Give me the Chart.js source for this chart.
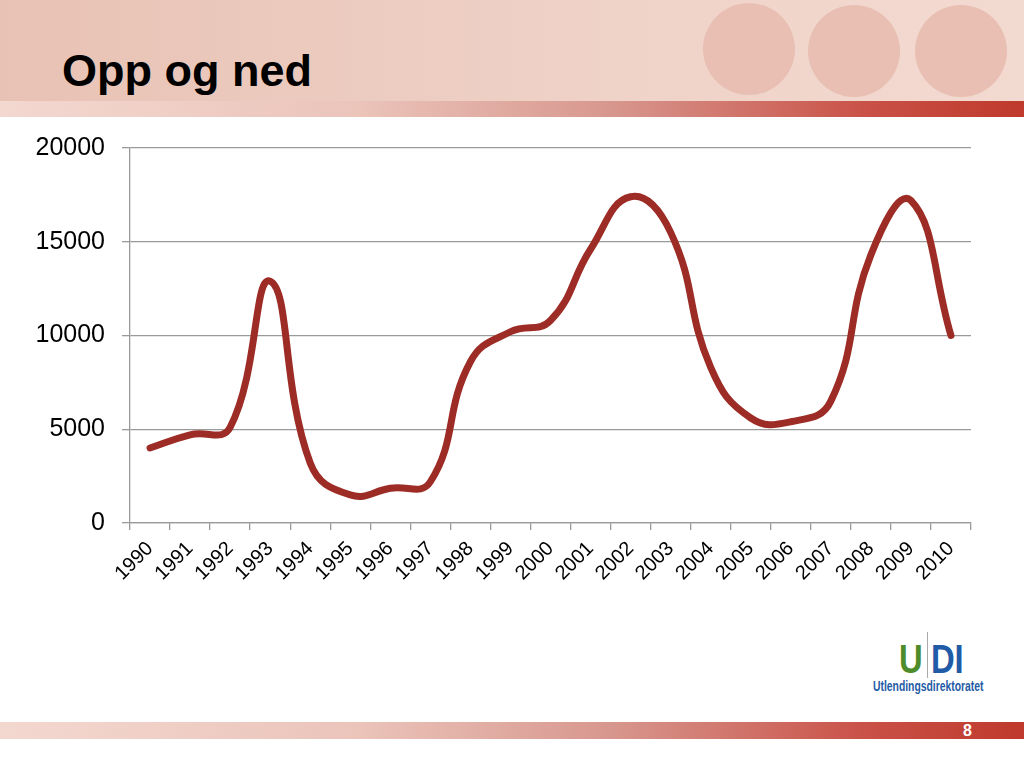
<!DOCTYPE html>
<html lang="no">
<head>
  <meta charset="UTF-8" />
  <title>Opp og ned</title>
  <script src="https://cdn.jsdelivr.net/npm/chart.js"></script>
  <style>
    body { margin: 0; width: 1024px; height: 768px; position: relative; overflow: hidden; background: #fff; font-family: 'Liberation Sans', Arial, sans-serif; }
    .head { position: absolute; left: 0; top: 0; width: 1024px; height: 101px; background: linear-gradient(to right, #e8c2b4, #efd2c8 60%, #f3dad1); }
    .dot { position: absolute; width: 92px; height: 92px; border-radius: 50%; background: #e8bfb2; }
    .bar { position: absolute; left: 0; width: 1024px; background: linear-gradient(to right, #f3d8d0 0%, #ebc4ba 35%, #d7968d 60%, #c95046 85%, #bf392c 100%); }
    h1 { position: absolute; left: 62px; top: 48px; margin: 0; font-size: 45px; line-height: 46px; font-weight: bold; color: #000; }
    .chart { position: absolute; left: 0; top: 116px; }
    .udi { position: absolute; left: 899px; top: 636px; font-weight: bold; font-size: 40px; line-height: 46px; transform: scale(0.82, 1); transform-origin: 0 0; white-space: nowrap; }
    .udi .u { color: #4e8c2b; }
    .udi .di { color: #1f5ba6; margin-left: 10px; }
    .sep { position: absolute; left: 927px; top: 632px; width: 1px; height: 46px; background: #aaa; }
    .name { position: absolute; left: 873px; top: 678px; font-size: 14px; line-height: 16px; font-weight: bold; color: #1f5ba6; white-space: nowrap; transform: scale(0.74, 1); transform-origin: 0 0; }
    .num { position: absolute; left: 963px; top: 722px; font-size: 16px; font-weight: bold; color: #fff; line-height: 17px; }
  </style>
</head>
<body>
  <div class="head"></div>
  <div class="dot" style="left:703px;top:3px"></div>
  <div class="dot" style="left:808px;top:5px"></div>
  <div class="dot" style="left:915px;top:5px"></div>
  <div class="bar" style="top:101px;height:16px"></div>
  <h1>Opp og ned</h1>

  <canvas id="chart" class="chart" width="1000" height="504"></canvas>

  <div class="udi"><span class="u">U</span><span class="di">DI</span></div>
  <div class="sep"></div>
  <div class="name">Utlendingsdirektoratet</div>

  <div class="bar" style="top:722px;height:17px"></div>
  <div class="num">8</div>

  <script>
    const years = ['1990', '1991', '1992', '1993', '1994', '1995', '1996', '1997', '1998', '1999', '2000',
                   '2001', '2002', '2003', '2004', '2005', '2006', '2007', '2008', '2009', '2010'];
    const values = [4000, 4700, 5100, 12900, 3200, 1500, 1850, 2200, 8600, 10200, 10800,
                    14600, 17400, 15500, 8300, 5600, 5400, 6500, 14300, 17200, 10000];
    const yMin = 0, yMax = 20000, yStep = 5000;

    const gray = '#9a9a9a';

    new Chart(document.getElementById('chart'), {
      type: 'line',
      data: {
        labels: years,
        datasets: [{
          data: values,
          borderColor: '#9c2c25',
          borderWidth: 7,
          borderCapStyle: 'round',
          borderJoinStyle: 'round',
          tension: 0.45,
          pointRadius: 0,
          fill: false
        }]
      },
      options: {
        responsive: false,
        animation: false,
        layout: { padding: { top: 3, right: 29, left: 0, bottom: 0 } },
        plugins: { legend: { display: false }, tooltip: { enabled: false } },
        scales: {
          x: {
            offset: true,
            grid: { offset: true, drawOnChartArea: false, drawTicks: true, tickLength: 7, color: gray, lineWidth: 1.3 },
            border: { color: gray, width: 1.3 },
            ticks: { minRotation: 45, maxRotation: 45, padding: 7, color: '#000', autoSkip: false,
                     font: { family: 'Liberation Sans', size: 20 } },
            afterFit: s => { s.height = 97; }
          },
          y: {
            min: yMin, max: yMax,
            grid: { color: gray, lineWidth: 1.3, tickLength: 8 },
            border: { color: gray, width: 1.3 },
            ticks: { stepSize: yStep, padding: 17, color: '#000',
                     font: { family: 'Liberation Sans', size: 25 },
                     callback: v => String(v) },
            afterFit: s => { s.width = 130; }
          }
        }
      }
    });
  </script>
</body>
</html>
